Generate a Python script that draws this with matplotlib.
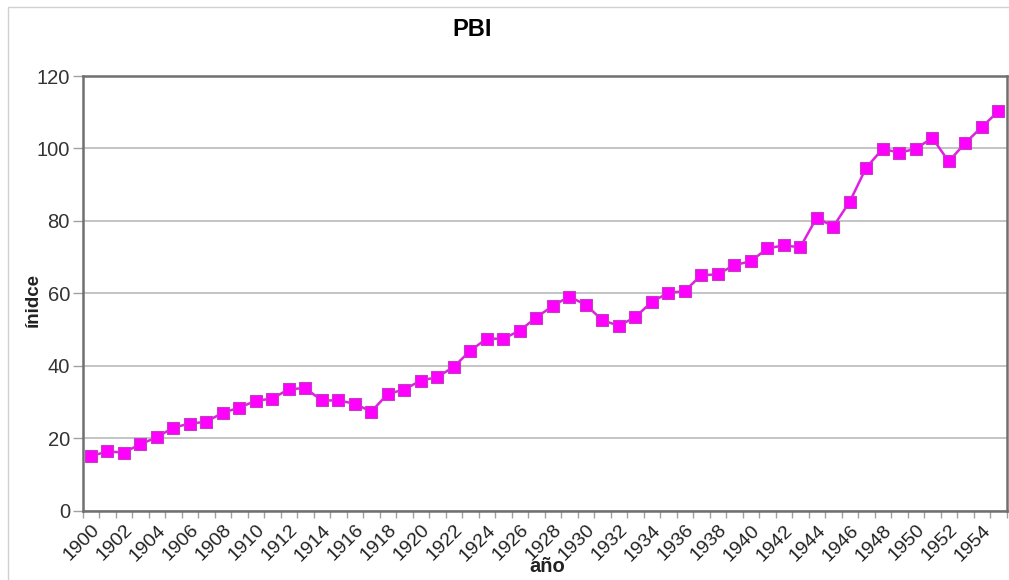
import numpy as np
import matplotlib
matplotlib.use("Agg")
import matplotlib.pyplot as plt
from matplotlib.patches import Rectangle

plt.rcParams['font.family'] = ['Liberation Sans', 'DejaVu Sans']

# data
years = list(range(1900, 1956))
pbi = [15.0, 16.3, 16.0, 18.3, 20.2, 22.9, 24.0, 24.5, 27.0, 28.4,
       30.3, 30.9, 33.5, 33.8, 30.4, 30.4, 29.5, 27.3, 32.2, 33.4,
       35.9, 36.8, 39.7, 44.1, 47.5, 47.4, 49.7, 53.3, 56.5, 59.1,
       56.8, 52.6, 51.0, 53.4, 57.6, 60.1, 60.6, 65.0, 65.2, 67.8,
       68.8, 72.4, 73.2, 72.7, 80.9, 78.4, 85.3, 94.7, 99.9, 98.8,
       99.9, 102.9, 96.4, 101.5, 105.9, 110.2]
tick_labels = [str(y) for y in years[::2]]

W, H = 1009, 580
fig = plt.figure(figsize=(W / 100, H / 100), dpi=100)
fig.patch.set_facecolor('white')

# outer chart border
fig.add_artist(Rectangle((8 / W, -0.05), 1.1, 1 - 7 / H + 0.05, transform=fig.transFigure,
                         fill=False, edgecolor='#d0d0d0', linewidth=1.0))

ax = fig.add_axes([82.5 / W, 1 - 510.5 / H, (1006.5 - 82.5) / W, (510.5 - 76) / H])

x = np.arange(len(years))
ax.plot(x, pbi, color='#e020e0', linewidth=1.8, marker='s', markersize=8.5,
        markerfacecolor='#ff00ff', markeredgecolor='#c040c0', markeredgewidth=0.8,
        zorder=3)

ax.set_xlim(-0.5, len(years) - 0.5)
ax.set_ylim(0, 120)
ax.set_yticks(range(0, 121, 20))
ax.yaxis.grid(True, color='#c4c4c4', linewidth=1.4)
ax.set_axisbelow(True)

ax.set_xticks(x[::2])
ax.set_xticklabels(tick_labels, rotation=45, ha='right', rotation_mode='anchor')
ax.set_xticks(np.arange(len(years) + 1) - 0.5, minor=True)
ax.tick_params(axis='x', which='major', length=0, pad=8, labelsize=14, labelcolor='#222222')
ax.tick_params(axis='x', which='minor', length=5, width=1, color='#a0a0a0', direction='out')
ax.tick_params(axis='y', length=7, width=1, color='#a0a0a0', labelsize=14.5,
               labelcolor='#333333', pad=2)

for s in ax.spines.values():
    s.set_color('#707070')
    s.set_linewidth(1.8)

fig.text(472 / W, 1 - 30 / H, 'PBI', ha='center', va='center', fontsize=17, fontweight='bold')
fig.text(547 / W, 1 - 566 / H, 'año', ha='center', va='center', fontsize=14.5, fontweight='bold',
         color='#222222')
fig.text(33 / W, 1 - 300 / H, 'ínidce', ha='center', va='center', rotation=90, fontsize=13.5,
         fontweight='bold', color='#222222')

fig.savefig('out.png', dpi=100)
